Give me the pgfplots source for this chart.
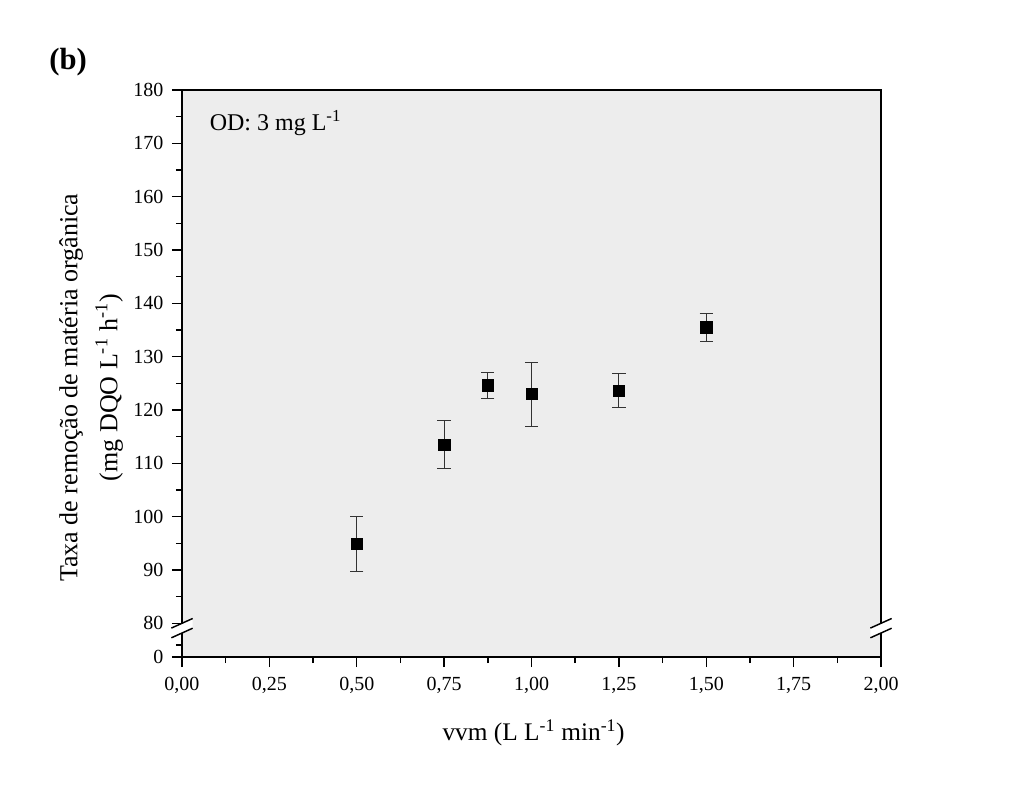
\documentclass[border=0pt]{standalone}
\usepackage{pgfplots}
\pgfplotsset{compat=1.18}
\usepackage{fontspec}
\setmainfont{Liberation Serif}
\begin{document}
\begin{tikzpicture}
\path[use as bounding box] (-136.5pt,-98.25pt) rectangle (631.5pt,492.75pt);
\begin{axis}[
  at={(0,0)}, anchor=south west,
  scale only axis, width=524.25pt, height=425.25pt,
  xmin=0, xmax=2, ymin=73.68, ymax=180,
  axis background/.style={fill=black!7},
  axis line style={line width=1.2pt},
  clip=false,
  xtick={0,0.25,...,2.01},
  xticklabels={0{,}00,0{,}25,0{,}50,0{,}75,1{,}00,1{,}25,1{,}50,1{,}75,2{,}00},
  minor xtick={0.125,0.375,...,1.9},
  ytick={73.68,80,90,...,180},
  yticklabels={0,80,90,100,110,120,130,140,150,160,170,180},
  minor ytick={75.9,85,95,...,176},
  tick align=outside,
  xtick pos=bottom, ytick pos=left,
  major tick length=7.5pt, minor tick length=4.5pt,
  every tick/.style={line width=1.1pt, black},
  tick label style={font=\fontsize{15}{17}\selectfont},
  xticklabel style={yshift=-4pt},
  yticklabel style={xshift=-3pt},
  xlabel={vvm (L L\textsuperscript{-1} min\textsuperscript{-1})},
  ylabel={Taxa de remoção de matéria orgânica\\(mg DQO L\textsuperscript{-1} h\textsuperscript{-1})},
  label style={font=\fontsize{19.5}{30}\selectfont},
  ylabel style={align=center, at={(axis description cs:-0.130,0.475)}, anchor=center},
  xlabel style={font=\fontsize{19}{23}\selectfont, at={(axis description cs:0.503,-0.134)}, anchor=center},
]
\addplot[only marks, mark=square*, mark size=4.3pt, black,
  error bars/.cd, y dir=both, y explicit,
  error bar style={line width=0.6pt, black!80},
  error mark options={rotate=90, mark size=5pt, line width=0.6pt, black!80}]
  coordinates {
  (0.5,94.9) +- (0,5.1)
  (0.75,113.5) +- (0,4.5)
  (0.875,124.6) +- (0,2.4)
  (1.0,123.0) +- (0,6.0)
  (1.25,123.6) +- (0,3.2)
  (1.5,135.5) +- (0,2.6)
  };
\node[anchor=west, font=\fontsize{18}{21}\selectfont] at (axis description cs:0.033,0.942) {OD: 3 mg L\textsuperscript{-1}};
\coordinate (bL) at (axis cs:0,80);
\coordinate (bR) at (axis cs:2,80);
\end{axis}
% axis breaks
\fill[white] (bL) ++(-8pt,-3.6pt) -- ++(16pt,7.2pt) -- ++(0pt,-7.3pt) -- ++(-16pt,-7.2pt) -- cycle;
\draw[line width=1.1pt] (bL) ++(-8pt,-3.6pt) -- ++(16pt,7.2pt);
\draw[line width=1.1pt] (bL) ++(-8pt,-10.9pt) -- ++(16pt,7.2pt);
\fill[white] (bR) ++(-8pt,-3.6pt) -- ++(16pt,7.2pt) -- ++(0pt,-7.3pt) -- ++(-16pt,-7.2pt) -- cycle;
\draw[line width=1.1pt] (bR) ++(-8pt,-3.6pt) -- ++(16pt,7.2pt);
\draw[line width=1.1pt] (bR) ++(-8pt,-10.9pt) -- ++(16pt,7.2pt);
\node[anchor=west, font=\fontsize{23}{27}\selectfont\bfseries] at (-103pt,446pt) {(b)};
\end{tikzpicture}
\end{document}
